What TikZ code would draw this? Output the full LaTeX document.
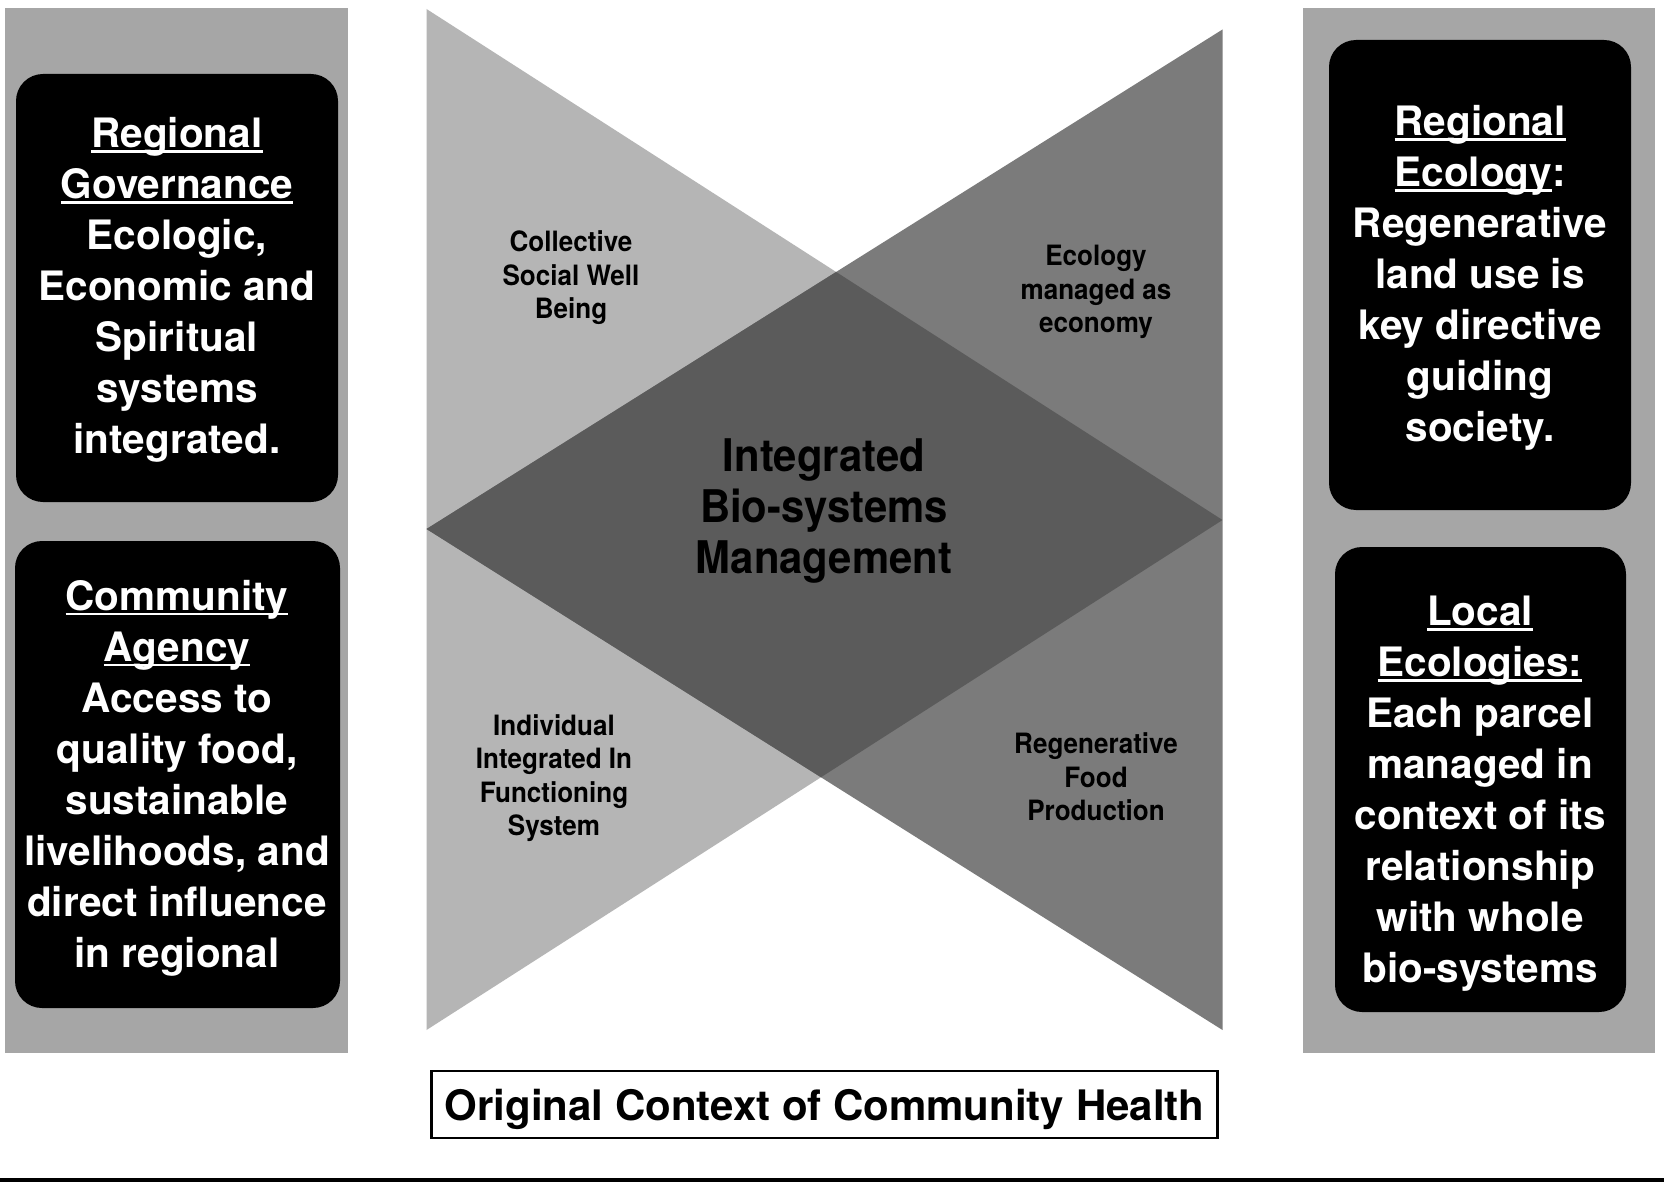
\documentclass[tikz,border=0pt]{standalone}
\usepackage{fontspec}
\setmainfont{TeX Gyre Heros}
\newfontfamily\condfont{TeX Gyre Heros}[FakeStretch=0.93]
\definecolor{panelgray}{RGB}{166,166,166}
\definecolor{trilight}{RGB}{181,181,181}
\definecolor{trimid}{RGB}{123,123,123}
\definecolor{tridark}{RGB}{91,91,91}
\newsavebox{\ulbox}
\newcommand{\ulx}[1]{\sbox{\ulbox}{#1}\rlap{\rule[-5pt]{\wd\ulbox}{2.4pt}}\usebox{\ulbox}}
\tikzset{
  panel/.style={fill=panelgray},
  blackbox/.style={fill=black, rounded corners=27},
  boxtext/.style={text=white, align=center, inner sep=0pt,
    font=\fontsize{40.5}{51}\selectfont\bfseries},
  trilabel/.style={text=black, align=center, inner sep=0pt,
    font=\condfont\fontsize{28}{33.4}\selectfont\bfseries},
  centerlabel/.style={text=black, align=center, inner sep=0pt,
    font=\condfont\fontsize{45}{51}\selectfont\bfseries},
  caption/.style={draw=black, line width=2.5, fill=white, inner sep=0pt,
    minimum width=786, minimum height=67},
  captext/.style={inner sep=0pt, font=\fontsize{42}{50}\selectfont\bfseries}
}
\begin{document}
\begin{tikzpicture}[x=1pt,y=-1pt]
\useasboundingbox (0,0) rectangle (1664,1182);
\fill[white] (0,0) rectangle (1664,1182);

% side panels
\fill[panel] (5,8) rectangle (348,1053);
\fill[panel] (1303,8) rectangle (1655,1053);

% black boxes
\fill[blackbox] (16,74) rectangle (338,502);
\fill[blackbox] (15,541) rectangle (340,1008);
\fill[blackbox] (1329,40) rectangle (1631,510);
\fill[blackbox] (1335,547) rectangle (1626,1012);

% crossing triangles
\fill[trilight] (426.5,9) -- (426.5,1030) -- (1222.5,520) -- cycle;
\fill[trimid] (1222.5,29.5) -- (1222.5,1030) -- (426.5,529) -- cycle;
\begin{scope}
  \clip (426.5,9) -- (426.5,1030) -- (1222.5,520) -- cycle;
  \fill[tridark] (1222.5,29.5) -- (1222.5,1030) -- (426.5,529) -- cycle;
\end{scope}

% box texts
\node[boxtext] (gov) at (177,290) {\ulx{Regional}\\\ulx{Governance}\\Ecologic,\\Economic and\\Spiritual\\systems\\integrated.};
\node[boxtext] (agency) at (177,778) {\ulx{Community}\\\ulx{Agency}\\Access to\\quality food,\\sustainable\\livelihoods, and\\direct influence\\in regional};
\node[boxtext] (regeco) at (1480,278) {\ulx{Regional}\\\ulx{Ecology}:\\Regenerative\\land use is\\key directive\\guiding\\society.};
\node[boxtext] (loceco) at (1480,794) {\ulx{Local}\\\ulx{Ecologies:}\\Each parcel\\managed in\\context of its\\relationship\\with whole\\bio-systems};

% triangle labels
\node[trilabel] (social) at (571,278) {Collective\\Social Well\\Being};
\node[trilabel] (ecoecon) at (1096,292) {Ecology\\managed as\\economy};
\node[trilabel] (indiv) at (554,778) {Individual\\Integrated In\\Functioning\\System};
\node[trilabel] (food) at (1096,777) {Regenerative\\Food\\Production};
\node[centerlabel] (ibm) at (824,511) {Integrated\\Bio-systems\\Management};

% caption
\node[caption] (cap) at (824.5,1104.5) {};
\node[captext] (captxt) at (824.5,1109.5) {Original Context of Community Health};

% bottom rule
\coordinate (bl) at (0,1180);
\coordinate (br) at (1664,1180);
\draw[line width=3.5] (bl) -- (br);
\end{tikzpicture}
\end{document}
